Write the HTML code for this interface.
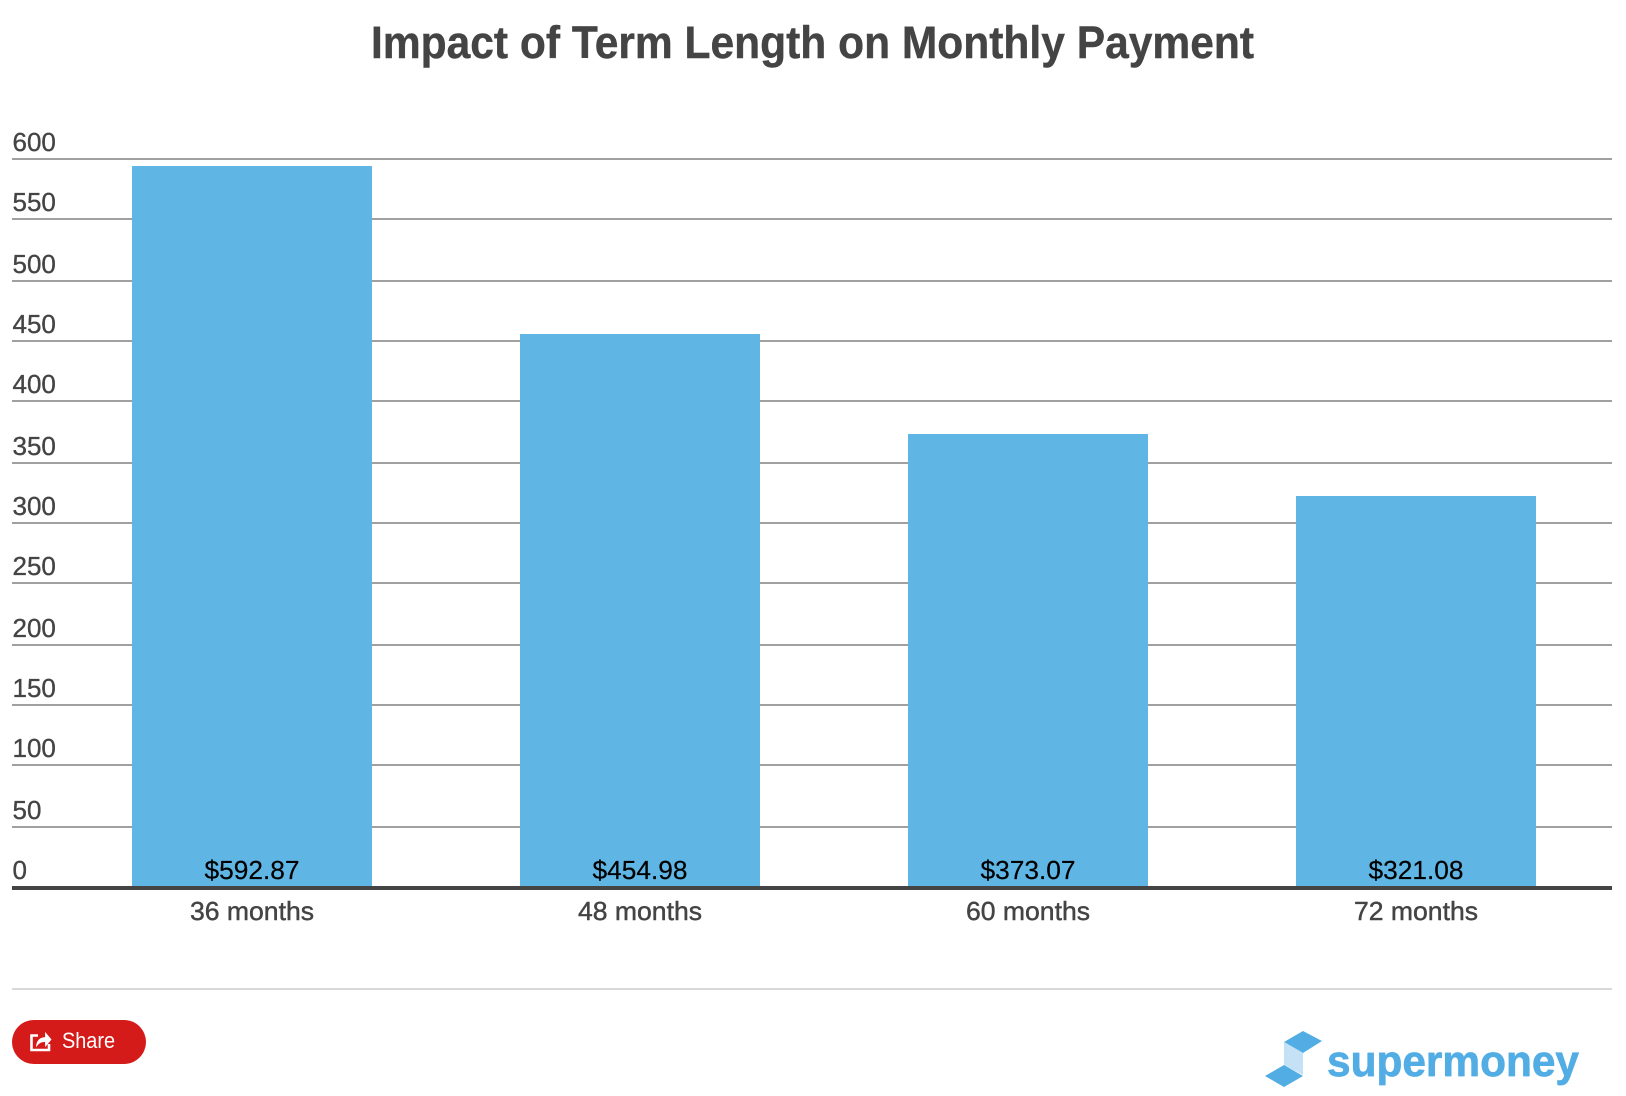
<!DOCTYPE html>
<html lang="en">
<head>
<meta charset="utf-8">
<title>Impact of Term Length on Monthly Payment</title>
<style>
html,body{margin:0;padding:0;background:#fff;width:1626px;height:1096px;overflow:hidden}
svg{display:block;font-family:"Liberation Sans",Arial,sans-serif}
</style>
</head>
<body>
<svg id="chart" xmlns="http://www.w3.org/2000/svg" width="1626" height="1096" viewBox="0 0 1626 1096">
  <rect x="0" y="0" width="1626" height="1096" fill="#ffffff"/>
  <text x="812.5" y="58" text-anchor="middle" font-size="45" font-weight="700" fill="#444444" stroke="#444444" stroke-width="0.4" textLength="883" lengthAdjust="spacingAndGlyphs">Impact of Term Length on Monthly Payment</text>
  <g id="grid"></g>
  <g id="ylabels"></g>
  <g id="bars"></g>
  <rect x="12" y="886" width="1600" height="4" fill="#444444"/>
  <g id="values"></g>
  <g id="xlabels"></g>
  <rect x="12" y="988" width="1600" height="2" fill="#d8d8d8"/>
  <g style="cursor:pointer">
    <rect x="12" y="1020" width="134" height="44" rx="22" ry="22" fill="#d51a1a"/>
    <g fill="none" stroke="#ffffff" stroke-width="2.6">
      <path d="M38 1035.5h-6.5v14.5h17.5v-6"/>
      <path d="M36.5 1046c0.5-5.5 4-8.5 9-8.5v-4.5l5.5 6.5-5.5 6.5v-4.5c-4 0-6.5 1-9 4.5z" fill="#ffffff" stroke-width="0.8"/>
    </g>
    <text x="62" y="1048" font-size="22" fill="#ffffff" textLength="53" lengthAdjust="spacingAndGlyphs">Share</text>
  </g>
  <g>
    <polygon points="1284,1042 1303,1031 1322,1041 1303,1053" fill="#52ade4"/>
    <polygon points="1284,1042 1303,1053 1303,1075 1284,1065" fill="#c5e1f5"/>
    <polygon points="1265,1076 1284,1065 1303,1076 1284,1087" fill="#52ade4"/>
    <text x="1327" y="1076" font-size="44" font-weight="700" fill="#52ade4" stroke="#52ade4" stroke-width="0.7" stroke-linejoin="round" textLength="252" lengthAdjust="spacingAndGlyphs">supermoney</text>
  </g>
</svg>
<script>
const categories = ["36 months", "48 months", "60 months", "72 months"];
const paymentValues = [592.87, 454.98, 373.07, 321.08];
const yTickValues = [0, 50, 100, 150, 200, 250, 300, 350, 400, 450, 500, 550, 600];

const SVG_NS = "http://www.w3.org/2000/svg";
const bandStart = 58;
const bandStep = 388;
const barWidth = 240;
const baseY = 886;
const pxPerUnit = 728 / 600;

function xCenter(i) { return bandStart + bandStep * i + bandStep / 2; }
function yScale(v) { return baseY - v * pxPerUnit; }
function gridY(v) { return 2 * Math.round(yScale(v) / 2) + 1; }
function barTop(v) { return 2 * Math.round(yScale(v) / 2); }

function make(tag, attrs, parent, text) {
  const el = document.createElementNS(SVG_NS, tag);
  Object.keys(attrs).forEach(function (k) { el.setAttribute(k, attrs[k]); });
  if (text !== undefined) el.textContent = text;
  parent.appendChild(el);
  return el;
}

const gridGroup = document.getElementById("grid");
const yLabelGroup = document.getElementById("ylabels");
const barGroup = document.getElementById("bars");
const valueGroup = document.getElementById("values");
const xLabelGroup = document.getElementById("xlabels");

yTickValues.forEach(function (t) {
  const gy = gridY(t);
  if (t > 0) {
    const line = make("rect", { x: 12, y: gy - 1, width: 1600, height: 2, fill: "#a0a0a0" }, gridGroup);
    
    
  }
  const label = make("text", { x: 12.5, y: gy - 8, "font-size": 26, fill: "#444444", stroke: "#444444", "stroke-width": 0.35 }, yLabelGroup, String(t));
  
  
});

categories.forEach(function (cat, i) {
  const cx = xCenter(i);
  const top = barTop(paymentValues[i]);
  const bar = make("rect", { x: cx - barWidth / 2, y: top, width: barWidth, height: baseY - top, fill: "#5fb6e4" }, barGroup);
  
  

  const value = make("text", { x: cx, y: 879, "text-anchor": "middle", "font-size": 26, fill: "#000000", stroke: "#000000", "stroke-width": 0.2, textLength: 95, lengthAdjust: "spacingAndGlyphs" }, valueGroup, "$" + paymentValues[i].toFixed(2));
  
  

  const xLabel = make("text", { x: cx, y: 920, "text-anchor": "middle", "font-size": 26, fill: "#444444", stroke: "#444444", "stroke-width": 0.45, textLength: 124, lengthAdjust: "spacingAndGlyphs" }, xLabelGroup, cat);
  
  
});
</script>
</body>
</html>
